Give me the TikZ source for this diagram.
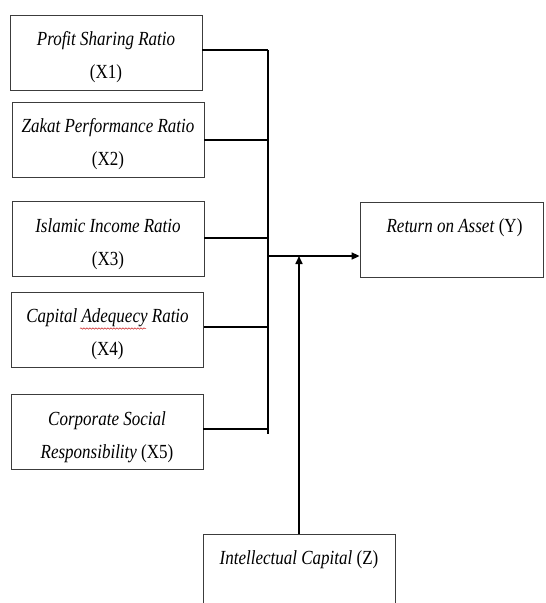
\documentclass[tikz,border=0pt]{standalone}
\usepackage{fontspec}
\setmainfont{Liberation Serif}
\newfontfamily\figfont[FakeStretch=0.85]{Liberation Serif}
\usepackage{xcolor}
\usetikzlibrary{arrows.meta,decorations.pathmorphing,positioning}
\definecolor{boxline}{RGB}{60,60,60}
\definecolor{spellred}{RGB}{200,30,30}

\tikzset{
  varbox/.style={draw=boxline,line width=0.8pt,rectangle,minimum width=192pt,
    minimum height=75pt,align=center,inner sep=2pt,text height=57pt,
    font=\figfont\fontsize{20}{33}\selectfont},
  conn/.style={line width=1.6pt},
  lbl/.style={font=\figfont\fontsize{20}{24}\selectfont,anchor=north,inner sep=0pt}
}

\begin{document}
\begin{tikzpicture}[x=1pt,y=-1pt,>={Triangle[length=8pt,width=7pt]}]

%% ── canvas ──────────────────────────────────────────────────────────────────
\useasboundingbox (0,0) rectangle (546,603);
\clip (0,0) rectangle (546,603);

%% ── independent variables ───────────────────────────────────────────────────
\node[varbox] (x1) at (106,52.5)  {\textit{Profit Sharing Ratio}\\(X1)};
\node[varbox] (x2) at (108,139.5) {\textit{Zakat Performance Ratio}\\(X2)};
\node[varbox] (x3) at (108,239)   {\textit{Islamic Income Ratio}\\(X3)};
\node[varbox] (x4) at (107.5,329.5) {\textit{Capital Adequecy Ratio}\\(X4)};
\node[varbox] (x5) at (107,432)   {\textit{Corporate Social}\\\textit{Responsibility} (X5)};

% spell-check squiggle under "Adequecy"
\draw[spellred,line width=0.5pt,decorate,
  decoration={snake,amplitude=0.7pt,segment length=3pt}]
  (80,328.5) -- (146,328.5);

%% ── dependent variable ──────────────────────────────────────────────────────
\node[varbox,minimum width=183pt,text height=] (ret) at (451.5,239.5) {};
\node[lbl] (rettxt) at ([xshift=3pt,yshift=-17pt]ret.north) {\textit{Return on Asset} (Y)};

%% ── moderating variable ─────────────────────────────────────────────────────
\node[varbox,text height=] (ic) at (299,572) {};
\node[lbl] (ictxt) at ([yshift=-16pt]ic.north) {\textit{Intellectual Capital} (Z)};

%% ── connectors ──────────────────────────────────────────────────────────────
\coordinate (bustop) at (268,50);
\coordinate (busbot) at (268,434);
\coordinate (join)   at (268,256);
\draw[conn] (bustop) -- (busbot);
\draw[conn] (x1.east |- bustop) -- (bustop);
\foreach \i/\y in {2/140,3/238,4/327,5/429}{%
  \draw[conn] (x\i.east |- 0,\y) -- (268,\y);
}
\draw[conn,->] (join) -- (join -| ret.west);
\draw[conn,->] (ic.north) -- (ic.north |- join);

\end{tikzpicture}
\end{document}
